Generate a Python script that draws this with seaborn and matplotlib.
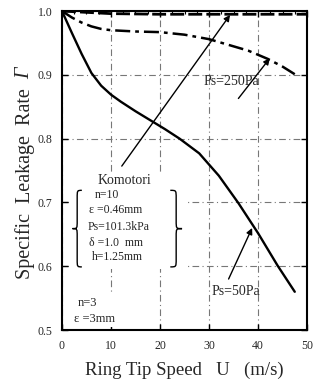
import numpy as np
import pandas as pd
import seaborn as sns
import matplotlib
matplotlib.use("Agg")
import matplotlib.pyplot as plt
from matplotlib.path import Path
from matplotlib.patches import PathPatch, Rectangle
from matplotlib.ticker import MultipleLocator

# ---- data ----
x_50 = [0, 2, 4, 6, 8, 10, 12, 15, 18, 21, 24, 28, 32, 36, 40, 44, 47.5]
y_50 = [1.0, 0.966, 0.933, 0.903, 0.883, 0.869, 0.858, 0.843, 0.829, 0.815, 0.800,
        0.777, 0.742, 0.699, 0.652, 0.601, 0.560]
x_250 = [0, 2, 4, 6, 8, 10, 15, 20, 25, 30, 34, 38, 42, 45, 47.5]
y_250 = [1.0, 0.990, 0.982, 0.976, 0.972, 0.970, 0.968, 0.967, 0.963, 0.956,
         0.947, 0.938, 0.925, 0.913, 0.901]
x_kom = [0, 5, 10, 20, 30, 40, 50]
y_kom = [1.0, 0.998, 0.996, 0.995, 0.995, 0.995, 0.995]

x_ticks = [0, 10, 20, 30, 40, 50]
y_ticks = [0.5, 0.6, 0.7, 0.8, 0.9, 1.0]

sns.set_theme(style="ticks")
plt.rcParams["font.family"] = ["Liberation Serif", "DejaVu Serif"]

fig = plt.figure(figsize=(3.28, 3.82), dpi=100)
ax = fig.add_axes([0.189, 0.136, 0.747, 0.835])

df50 = pd.DataFrame({"U": x_50, "G": y_50})
df250 = pd.DataFrame({"U": x_250, "G": y_250})
dfk = pd.DataFrame({"U": x_kom, "G": y_kom})

sns.lineplot(data=df50, x="U", y="G", ax=ax, color="black", lw=1.7, zorder=3)
sns.lineplot(data=df250, x="U", y="G", ax=ax, color="black", lw=1.8,
             linestyle=(0, (6, 2, 1.5, 2)), zorder=3)
sns.lineplot(data=dfk, x="U", y="G", ax=ax, color="black", lw=2.0,
             linestyle=(0, (5, 1.5)), zorder=3)

ax.set_xlim(0, 50)
ax.set_ylim(0.5, 1.0)
ax.set_xticks(x_ticks)
ax.set_yticks(y_ticks)
ax.set_xticklabels([str(t) for t in x_ticks], fontsize=8.5)
ax.set_yticklabels([f"{t:.1f}" for t in y_ticks], fontsize=8.5)
ax.xaxis.set_minor_locator(MultipleLocator(2.5))
ax.tick_params(which="both", direction="in", top=True, right=True, color="black")
ax.tick_params(which="major", length=4, width=1, pad=7)
ax.tick_params(which="minor", length=2, width=0.8, bottom=False)
for s in ax.spines.values():
    s.set_linewidth(1.5)
    s.set_color("black")

ax.grid(True, which="major", color="#777777", lw=0.8, linestyle=(0, (6, 3, 1, 3)))

ax.set_xlabel("Ring Tip Speed   U   (m/s)", fontsize=13.5, labelpad=7)
ylab = ax.set_ylabel("Specific  Leakage  Rate", fontsize=14.5, labelpad=2)
ylab.set_y(0.46)

# white area behind the parameter block (hides grid lines, as in the reference)
ax.add_patch(Rectangle((1.5, 0.595), 23.5, 0.152, facecolor="white",
                       edgecolor="none", zorder=1))
ax.add_patch(Rectangle((1.5, 0.505), 14.0, 0.052, facecolor="white",
                       edgecolor="none", zorder=1))

# annotations
arrow = dict(arrowstyle="-|>", lw=1.0, color="black", mutation_scale=9, shrinkA=0, shrinkB=0)
ax.annotate("", xy=(34.3, 0.994), xytext=(12.2, 0.757), arrowprops=arrow, zorder=4)
ax.annotate("", xy=(42.4, 0.926), xytext=(36.0, 0.863), arrowprops=arrow, zorder=4)
ax.annotate("", xy=(38.8, 0.660), xytext=(34.0, 0.580), arrowprops=arrow, zorder=4)

ax.text(28.8, 0.889, "Ps=250Pa", fontsize=10, ha="left", va="center")
ax.text(30.6, 0.561, "Ps=50Pa", fontsize=10, ha="left", va="center")
ax.text(12.7, 0.735, "Komotori", fontsize=10, ha="center", va="center", zorder=4)
ax.text(6.6, 0.711, "n=10", fontsize=8.5, ha="left", va="center", zorder=4)
ax.text(5.6, 0.688, "\u03b5 =0.46mm", fontsize=8.5, ha="left", va="center", zorder=4)
ax.text(5.3, 0.662, "Ps=101.3kPa", fontsize=8.5, ha="left", va="center", zorder=4)
ax.text(5.5, 0.637, "\u03b4 =1.0  mm", fontsize=8.5, ha="left", va="center", zorder=4)
ax.text(6.2, 0.614, "h=1.25mm", fontsize=8.5, ha="left", va="center", zorder=4)
ax.text(3.2, 0.542, "n=3", fontsize=9, ha="left", va="center", zorder=4)
ax.text(2.5, 0.518, "\u03b5 =3mm", fontsize=9, ha="left", va="center", zorder=4)


def brace(xc, y0, y1, w, opening_right=True):
    ym = (y0 + y1) / 2
    d = 0.012
    tip = xc + w / 2 if opening_right else xc - w / 2
    mid = xc - w / 2 if opening_right else xc + w / 2
    verts = [(tip, y1), (xc, y1), (xc, y1), (xc, y1 - d),
             (xc, ym + d),
             (xc, ym), (xc, ym), (mid, ym),
             (xc, ym), (xc, ym), (xc, ym - d),
             (xc, y0 + d),
             (xc, y0), (xc, y0), (tip, y0)]
    codes = [Path.MOVETO, Path.CURVE4, Path.CURVE4, Path.CURVE4,
             Path.LINETO,
             Path.CURVE4, Path.CURVE4, Path.CURVE4,
             Path.CURVE4, Path.CURVE4, Path.CURVE4,
             Path.LINETO,
             Path.CURVE4, Path.CURVE4, Path.CURVE4]
    ax.add_patch(PathPatch(Path(verts, codes), fill=False, lw=1.0, color="black", zorder=4))


brace(3.1, 0.599, 0.719, 1.9, opening_right=True)
brace(23.3, 0.599, 0.719, 2.4, opening_right=False)

# italic Gamma placed just above the y-label
fig.canvas.draw()
bb = ylab.get_window_extent(fig.canvas.get_renderer())
gx = (bb.x0 + bb.x1) / 2 / fig.bbox.width
gy = (bb.y1 + 9) / fig.bbox.height
fig.text(gx, gy, "\u0393", fontsize=14.5, style="italic", rotation=90,
         ha="center", va="bottom")

fig.savefig("out.png", dpi=100)
